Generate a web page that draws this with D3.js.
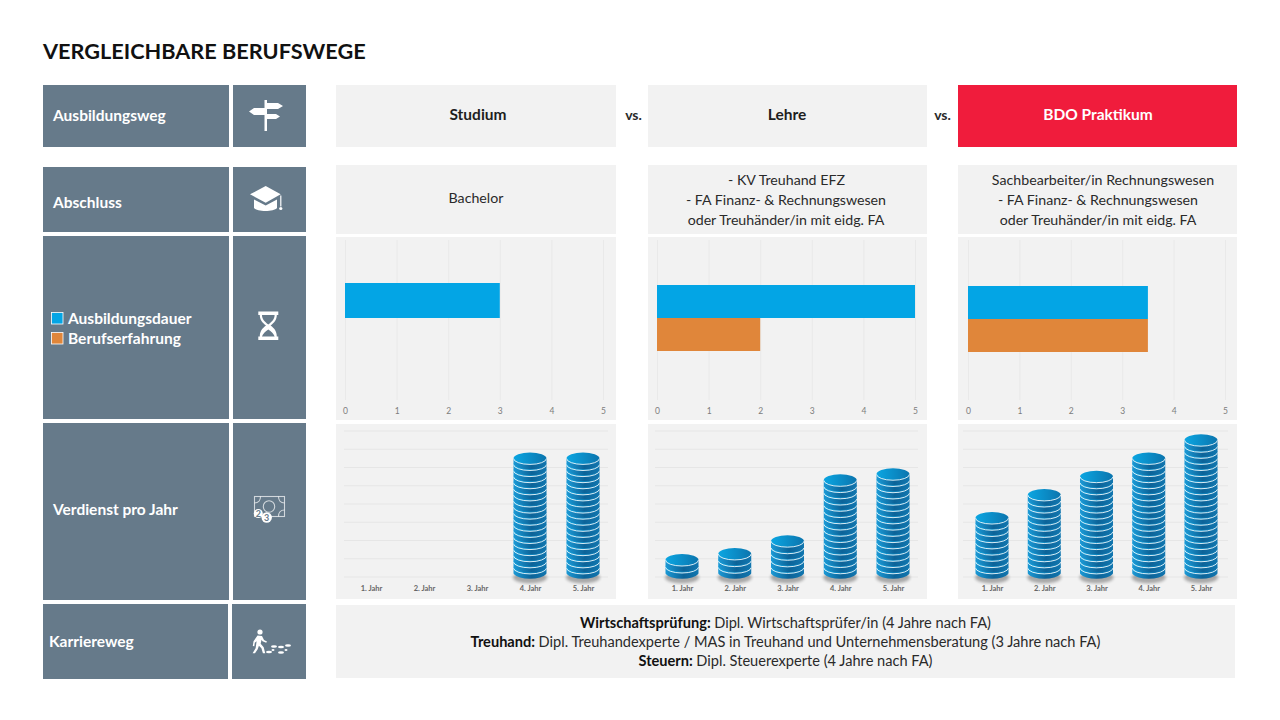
<!DOCTYPE html>
<html>
<head>
<meta charset="utf-8">
<script src="https://cdn.jsdelivr.net/npm/d3@7"></script>
<style>
  html, body { margin: 0; padding: 0; background: #fff; }
  svg { display: block; font-family: "Lato", "Open Sans", sans-serif; }
</style>
</head>
<body>
<div id="chart"></div>
<script>
const years = ["1. Jahr", "2. Jahr", "3. Jahr", "4. Jahr", "5. Jahr"];
const seriesNames = ["Ausbildungsdauer", "Berufserfahrung"];
const durationTicks = [0, 1, 2, 3, 4, 5];

// years of training / work experience
const studiumDuration = [3, 0];
const lehreDuration = [5, 2];
const bdoDuration = [3.5, 3.5];

const studiumCoins = [0, 0, 0, 19, 19];
const lehreCoins = [2.3, 3.3, 5.4, 15.4, 16.4];
const bdoCoins = [9.2, 13, 16, 19, 22];

const paths = ["Studium", "Lehre", "BDO Praktikum"];
const abschluss = [
  ["Bachelor"],
  ["- KV Treuhand EFZ", "- FA Finanz- & Rechnungswesen", "oder Treuhänder/in mit eidg. FA"],
  ["Sachbearbeiter/in Rechnungswesen", "- FA Finanz- & Rechnungswesen", "oder Treuhänder/in mit eidg. FA"]
];
const karriere = [
  ["Wirtschaftsprüfung:", "Dipl. Wirtschaftsprüfer/in (4 Jahre nach FA)"],
  ["Treuhand:", "Dipl. Treuhandexperte / MAS in Treuhand und Unternehmensberatung (3 Jahre nach FA)"],
  ["Steuern:", "Dipl. Steuerexperte (4 Jahre nach FA)"]
];

const slate = "#667a8a", panel = "#f2f2f2", red = "#f01c3c", ink = "#1e1e1e";
const seriesColor = d3.scaleOrdinal().domain(seriesNames).range(["#03a5e5", "#e0863a"]);

const svg = d3.select("#chart").append("svg").attr("width", 1280).attr("height", 720);

const defs = svg.append("defs");
const topGrad = defs.append("linearGradient").attr("id", "coinTop");
topGrad.append("stop").attr("offset", "0%").attr("stop-color", "#0ba6e2");
topGrad.append("stop").attr("offset", "100%").attr("stop-color", "#0b75ae");
const sideGrad = defs.append("linearGradient").attr("id", "coinSide");
sideGrad.append("stop").attr("offset", "0%").attr("stop-color", "#1c9ad6");
sideGrad.append("stop").attr("offset", "55%").attr("stop-color", "#0c6398");
sideGrad.append("stop").attr("offset", "100%").attr("stop-color", "#1277b0");
defs.append("filter").attr("id", "blur").append("feGaussianBlur").attr("stdDeviation", 1.5);

function box(x, y, w, h, fill) {
  svg.append("rect").attr("x", x).attr("y", y).attr("width", w).attr("height", h).attr("fill", fill);
}

function label(x, y, str, { size = 14.2, weight = 400, fill = ink, anchor = "start" } = {}) {
  return svg.append("text").attr("x", x).attr("y", y).attr("font-size", size)
    .attr("font-weight", weight).attr("fill", fill).attr("text-anchor", anchor).text(str);
}

label(43, 59, "VERGLEICHBARE BERUFSWEGE", { size: 21.7, weight: 700, fill: "#111" });

// left column
const leftRows = [
  { y: 85, h: 62, text: "Ausbildungsweg", tx: 53, ty: 121 },
  { y: 167, h: 65, text: "Abschluss", tx: 53, ty: 208 },
  { y: 236, h: 183 },
  { y: 423, h: 177, text: "Verdienst pro Jahr", tx: 53, ty: 515 },
  { y: 604, h: 75, text: "Karriereweg", tx: 49, ty: 647, w1: 185, x2: 232, w2: 74 }
];
leftRows.forEach(r => {
  box(43, r.y, r.w1 || 186, r.h, slate);
  box(r.x2 || 233, r.y, r.w2 || 73, r.h, slate);
  if (r.text) label(r.tx, r.ty, r.text, { size: 15.5, weight: 700, fill: "#fff" });
});

// legend inside the third row
const legendY = d3.scaleBand().domain(seriesNames).range([309, 349]);
seriesNames.forEach(name => {
  svg.append("rect").attr("x", 51.5).attr("y", legendY(name) + 3.5).attr("width", 11.5).attr("height", 11.5)
    .attr("fill", seriesColor(name)).attr("stroke", "#fff").attr("stroke-width", 0.8);
  label(68, legendY(name) + 14.5, name, { size: 15.5, weight: 700, fill: "#fff" });
});

// icons
const icon = svg.append("g").attr("fill", "#fff");
icon.append("path").attr("d", "M264.5 100h2.500v31h-2.500zM249 111.500l5-3.500h10.500v7H254zM267 103h11l5 3-5 3h-11zM267 114h9l4 2.500-4 2.500h-9z");
icon.append("path").attr("d", "M265.700 186l-15.700 8.300 15.700 8.400 15-8.400zM254 199.500v8.500c3 4 20 4 23 0v-8.500l-11.300 6z");
icon.append("path").attr("d", "M280.200 195.500h1.200v11h-1.200z");
icon.append("circle").attr("cx", 280.800).attr("cy", 208.500).attr("r", 1.600);
icon.append("path").attr("fill-rule", "evenodd")
  .attr("d", "M258.300 311.500h20v3.500h-1.500c0 5-2.500 7.500-6.200 10.500 3.700 3 6.200 5.500 6.200 11h1.500v3.500h-20V336.500h1.500c0-5.500 2.500-8 6.200-11-3.700-3-6.200-5.500-6.200-10.500h-1.500zM262 315c0 4 2.500 6.500 6.300 9.500 3.800-3 6.300-5.500 6.300-9.500zM262 336.500h12.600c-.5-2.500-3.500-5-6.300-7-2.800 2-5.800 4.500-6.300 7z");

const money = svg.append("g").attr("fill", "none").attr("stroke", "#fff").attr("stroke-opacity", 0.7).attr("stroke-width", 1.1);
money.append("rect").attr("x", 254.500).attr("y", 496.500).attr("width", 30).attr("height", 20);
money.append("circle").attr("cx", 269).attr("cy", 506.500).attr("r", 5.700);
money.append("path").attr("d", "M254.500 503c4 0 6-3 6-6.500M278.500 496.500c0 3.500 2 6.500 6 6.500M284.500 510c-4 0-6 3-6 6.500");
[[258.300, 513.500, 4.500, "2"], [266.700, 517.500, 5.200, "3"]].forEach(c => {
  icon.append("circle").attr("cx", c[0]).attr("cy", c[1]).attr("r", c[2]);
  svg.append("text").attr("x", c[0]).attr("y", c[1] + 3.200).attr("text-anchor", "middle")
    .attr("font-size", 9).attr("font-weight", 700).attr("fill", slate).text(c[3]);
});

icon.append("circle").attr("cx", 260).attr("cy", 632).attr("r", 2.600);
icon.append("path").attr("d", "M257.500 635.500l4.500.5 2 4 3 1.500-.8 1.200-3.700-1.500-1-1.500-.8 4 3 3.500 1.500 6h-2.300l-1.500-5-2.500-2.500-1.200 3.500-2.700 4h-2.400l3-5 1-7-1.800 1.500-.5 3.500-1.500-.3.700-4.700z");
[[269, 652, 3, 1.300], [274, 646.500, 3, 1.300], [273, 650, 1.500, 1], [281, 647, 3, 1.300], [281, 652.500, 3, 1.300], [288, 645.500, 3, 1.300], [286, 650, 1.500, 1]].forEach(e => {
  icon.append("ellipse").attr("cx", e[0]).attr("cy", e[1]).attr("rx", e[2]).attr("ry", e[3]);
});

// top row + comparison columns
const columns = [
  { x: 336, w: 280, barX: [345, 603], barY: [283, 353], duration: studiumDuration, coins: studiumCoins,
    gridX: [344, 608], yearX: [371, 583], textX: [476], headX: 478 },
  { x: 648, w: 279, barX: [657, 915], barY: [285, 351], duration: lehreDuration, coins: lehreCoins,
    gridX: [655, 918], yearX: [682, 893], textX: [786.5, 786, 786], headX: 787 },
  { x: 958, w: 279, barX: [968, 1225], barY: [286, 352], duration: bdoDuration, coins: bdoCoins,
    gridX: [963, 1228], yearX: [992, 1201], textX: [1103, 1098, 1098], headX: 1098 }
];

const coinY = d3.scaleLinear().domain([0, 24]).range([577, 431]);
const coinGrid = d3.range(0, 25, 3);
const rx = 16.5, ry = 6;

columns.forEach((col, ci) => {
  box(col.x, 85, col.w, 62, ci === 2 ? red : panel);
  label(col.headX, 120, paths[ci], { size: 15.5, weight: 700, anchor: "middle", fill: ci === 2 ? "#fff" : ink });

  box(col.x, 165, col.w, 69, panel);
  const lines = abschluss[ci];
  const baselines = lines.length === 1 ? [203] : [185, 205, 224.5];
  lines.forEach((line, i) => label(col.textX[i], baselines[i], line, { anchor: "middle", fill: "#2a2a2a" }));

  // duration bars
  box(col.x, 237, col.w, 183, panel);
  const x = d3.scaleLinear().domain([0, 5]).range(col.barX);
  const band = d3.scaleBand().domain(seriesNames).range(col.barY);
  const barAxis = svg.append("g").attr("transform", "translate(0,400)")
    .call(d3.axisBottom(x).tickValues(durationTicks).tickFormat(d3.format("d")).tickSize(-160).tickPadding(8));
  barAxis.select(".domain").remove();
  barAxis.selectAll("line").attr("stroke", "#e9e9e9");
  barAxis.selectAll("text").attr("fill", "#7d7d7d").attr("font-size", 8.5).attr("font-family", "Lato");
  svg.append("g").selectAll("rect")
    .data(seriesNames.map((s, i) => ({ s, v: col.duration[i] })).filter(d => d.v > 0))
    .join("rect")
    .attr("x", x(0))
    .attr("y", d => band(d.s))
    .attr("width", d => x(d.v) - x(0))
    .attr("height", band.bandwidth())
    .attr("fill", d => seriesColor(d.s));

  // coin stacks
  box(col.x, 424, col.w, 175, panel);
  svg.append("g").selectAll("line").data(coinGrid).join("line")
    .attr("x1", col.gridX[0]).attr("x2", col.gridX[1])
    .attr("y1", d => coinY(d)).attr("y2", d => coinY(d))
    .attr("stroke", "#e6e6e6");

  const yearScale = d3.scalePoint().domain(years).range(col.yearX);
  const yearAxis = svg.append("g").attr("transform", "translate(0,582)")
    .call(d3.axisBottom(yearScale).tickSize(0).tickPadding(4));
  yearAxis.select(".domain").remove();
  yearAxis.selectAll("text").attr("fill", "#666").attr("font-size", 7.5).attr("font-weight", 700).attr("font-family", "Lato");

  years.forEach((yr, i) => {
    const v = col.coins[i];
    if (!v) return;
    const n = Math.floor(v);
    const step = (coinY(0) - coinY(v)) / n; // height of one coin in this stack
    const cx = yearScale(yr);
    const stack = svg.append("g");
    stack.append("ellipse").attr("cx", cx).attr("cy", coinY(0) + 0.5).attr("rx", rx + 0.5).attr("ry", ry)
      .attr("fill", "#000").attr("opacity", 0.3).attr("filter", "url(#blur)");
    d3.range(n).forEach(k => {
      const cy = coinY(0) - 3 - (k + 1) * step;
      stack.append("path")
        .attr("d", `M${cx - rx} ${cy}v${step - 1}q0 1 .6 1.300a${rx} ${ry} 0 0 0 ${2 * rx - 1.2} 0q.6-.3 .6-1.300v${1 - step}z`)
        .attr("fill", "url(#coinSide)");
      stack.append("ellipse").attr("cx", cx).attr("cy", cy).attr("rx", rx).attr("ry", ry)
        .attr("fill", "url(#coinTop)");
      stack.append("path")
        .attr("d", `M${cx - rx} ${cy}a${rx} ${ry} 0 0 0 ${2 * rx} 0`)
        .attr("fill", "none").attr("stroke", "#eef8fc").attr("stroke-width", 0.9);
    });
  });
});

label(633.5, 120, "vs.", { anchor: "middle", fill: "#2a2a2a", size: 14, weight: 700 });
label(942.5, 120, "vs.", { anchor: "middle", fill: "#2a2a2a", size: 14, weight: 700 });

// career row
box(336, 605, 899, 73, panel);
karriere.forEach((row, i) => {
  const t = svg.append("text").attr("x", 785.5).attr("y", [628, 647, 666][i]).attr("text-anchor", "middle")
    .attr("font-size", 14.6).attr("fill", "#2a2a2a");
  t.append("tspan").attr("font-weight", 700).attr("fill", "#111").text(row[0] + " ");
  t.append("tspan").text(row[1]);
});
</script>
</body>
</html>
